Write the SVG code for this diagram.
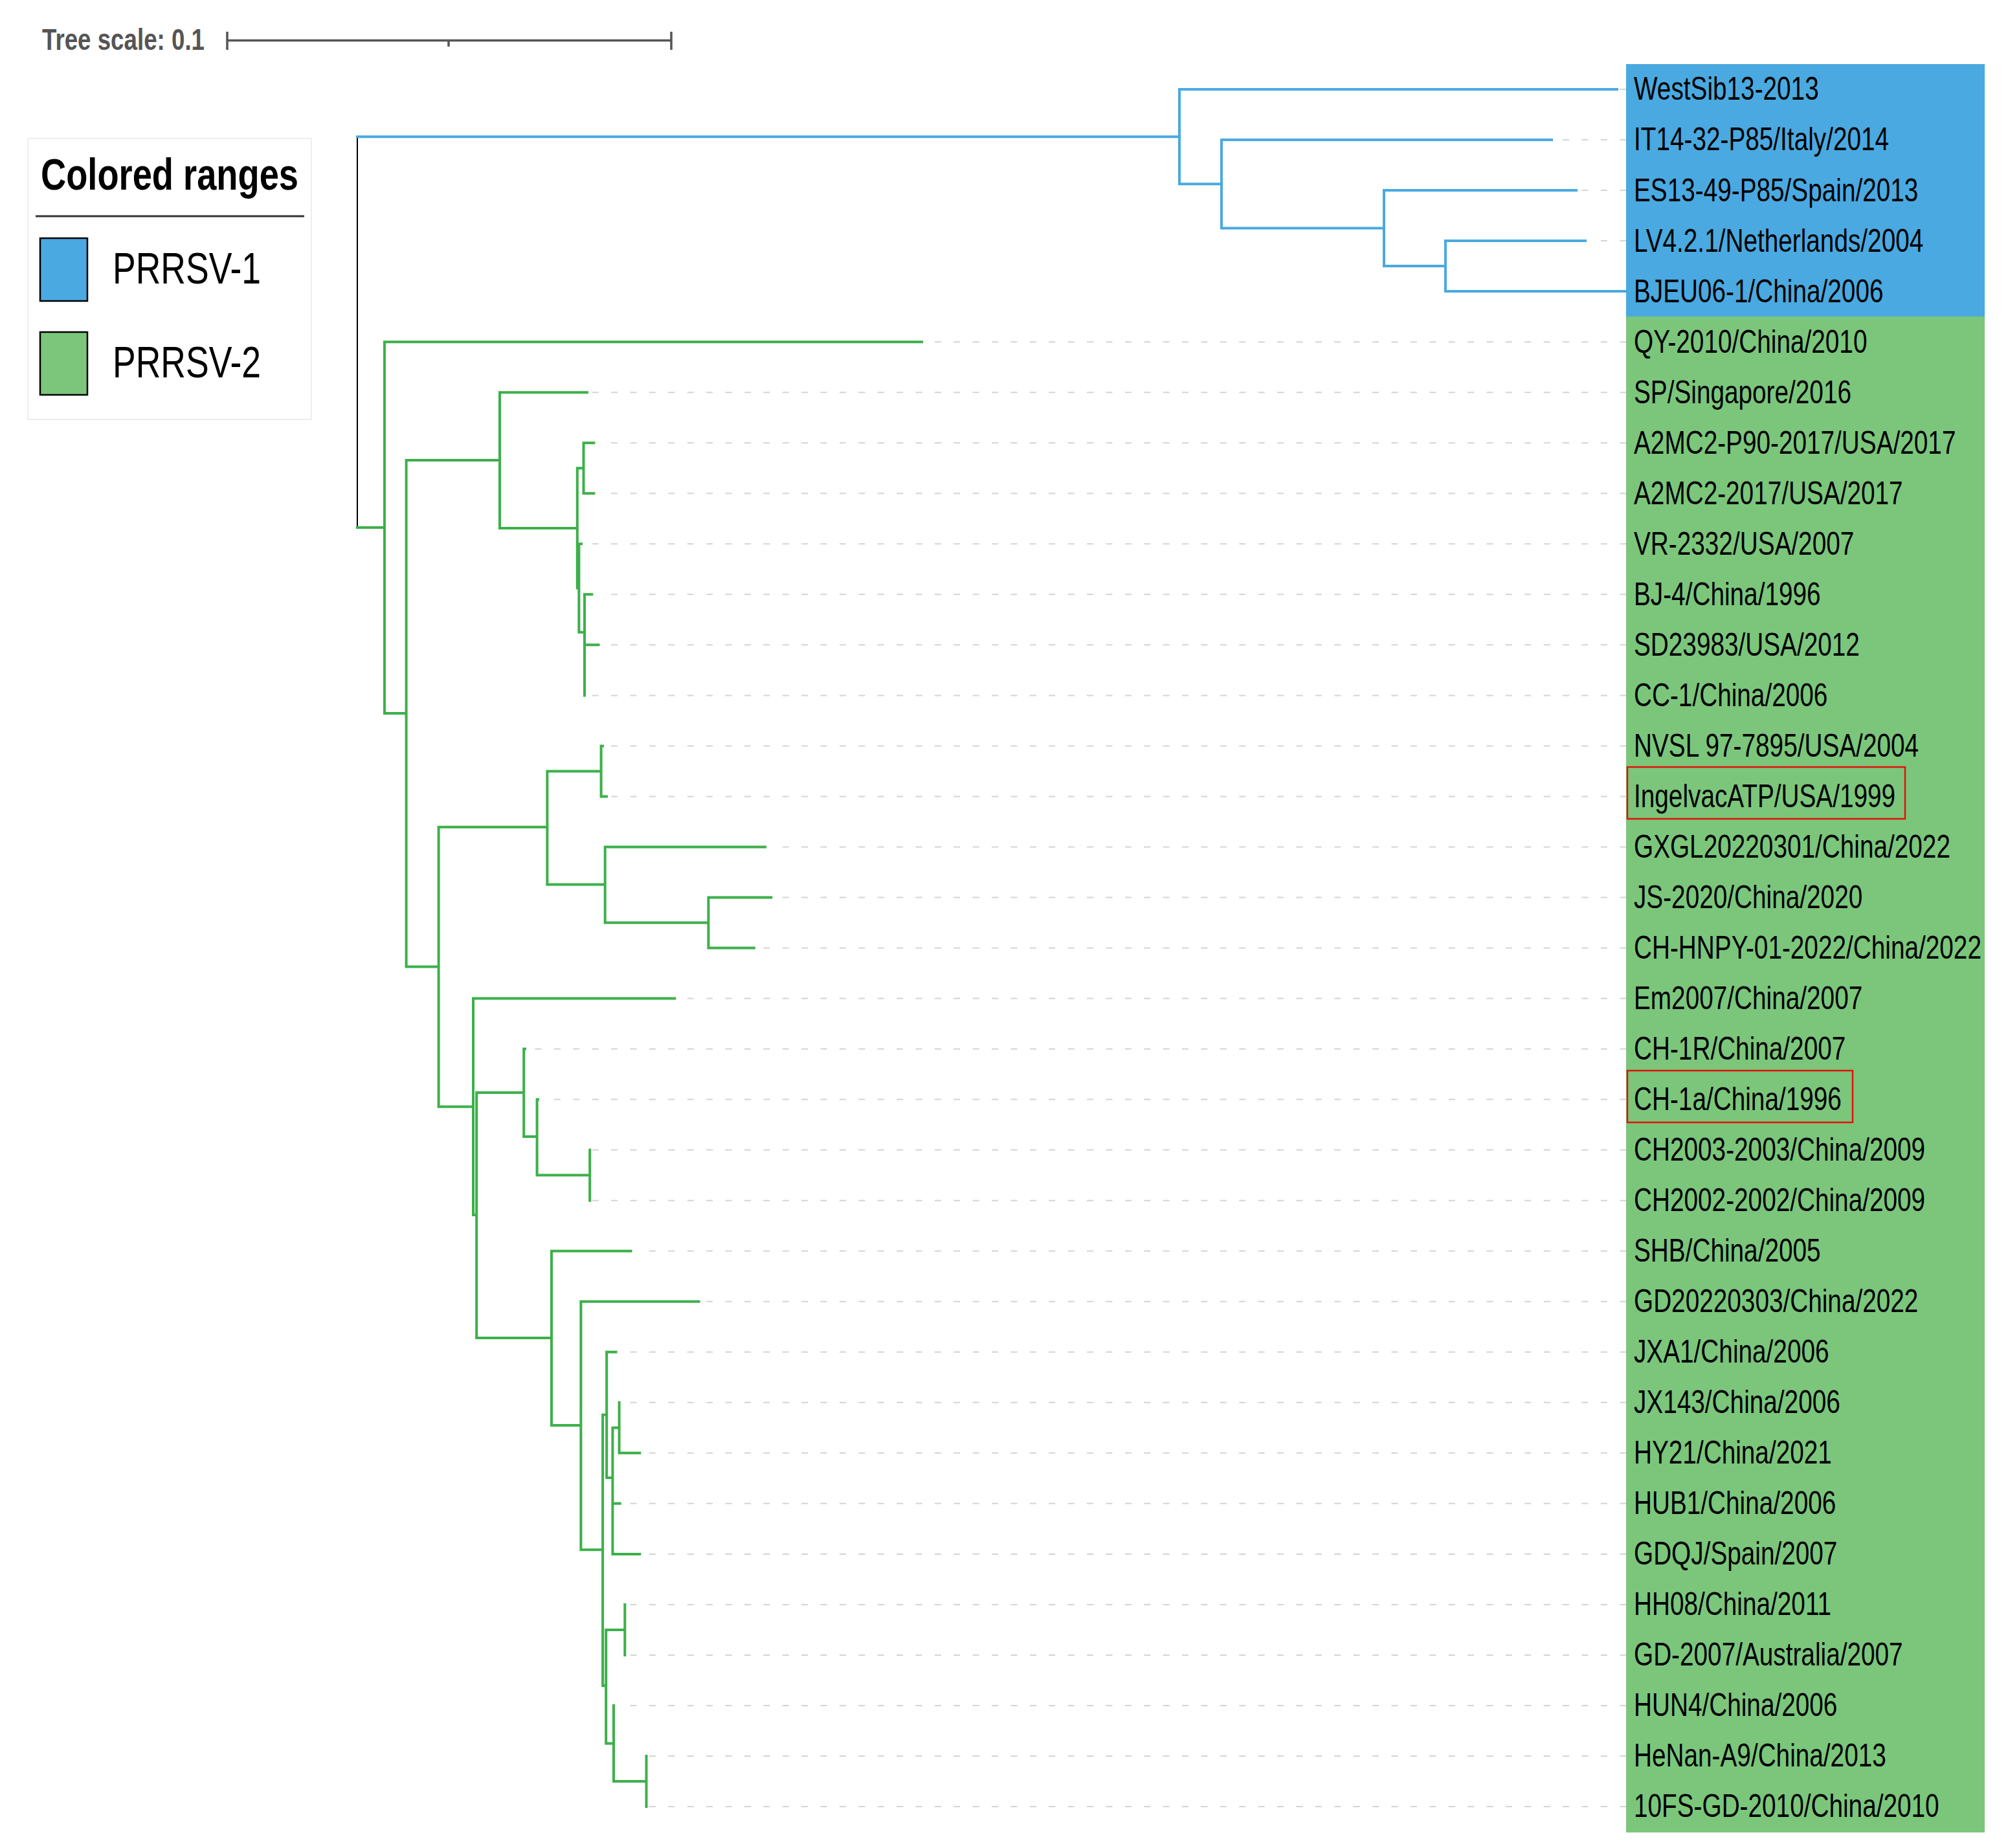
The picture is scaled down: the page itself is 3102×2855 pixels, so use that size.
<svg xmlns="http://www.w3.org/2000/svg" width="3102" height="2855" viewBox="0 0 3102 2855">
<style>
.lbl{font-family:"Liberation Sans",Arial,sans-serif;font-size:50px;fill:#000}
.br{fill:none;stroke-width:4;stroke-linecap:square}
.blue{stroke:#4aa9e0}
.green{stroke:#3cb04a}
.lead{fill:none;stroke:#d4d4d4;stroke-width:2;stroke-dasharray:10 19.4}
.hl{fill:none;stroke:#e3120b;stroke-width:2.5}
.leg{font-family:"Liberation Sans",Arial,sans-serif;fill:#000}
</style>
<rect width="3102" height="2855" fill="#fff"/>
<g id="scale">
<text x="65" y="77" font-family="Liberation Sans,Arial,sans-serif" font-weight="bold" font-size="46" fill="#555" textLength="251" lengthAdjust="spacingAndGlyphs">Tree scale: 0.1</text>
<path d="M351,62.5H1037M351,49V77M1037,49V77M693,62.5V72" fill="none" stroke="#555" stroke-width="3.5"/>
</g>
<g id="legend">
<rect x="43" y="214" width="438" height="434" fill="#fff" stroke="#eee" stroke-width="2"/>
<text class="leg" x="63" y="293" font-size="68" font-weight="bold" textLength="398" lengthAdjust="spacingAndGlyphs">Colored ranges</text>
<line x1="55" y1="334" x2="470" y2="334" stroke="#333" stroke-width="3"/>
<rect x="62" y="368" width="73" height="97" fill="#4aa9e0" stroke="#000" stroke-width="2.5"/>
<text class="leg" x="174" y="437.5" font-size="68" textLength="229" lengthAdjust="spacingAndGlyphs">PRRSV-1</text>
<rect x="62" y="513" width="73" height="97" fill="#7bc67b" stroke="#000" stroke-width="2.5"/>
<text class="leg" x="174" y="582.6" font-size="68" textLength="229" lengthAdjust="spacingAndGlyphs">PRRSV-2</text>
</g>
<g id="ranges">
<rect id="range-prrsv1" x="2512" y="99" width="554" height="390" fill="#4aa9e0"/>
<rect id="range-prrsv2" x="2512" y="489" width="554" height="2342" fill="#7bc67b"/>
</g>
<g id="connectors">
<g id="leaders">
<path class="lead" d="M2502.3,138H2512M2414.1,216H2512M2443.5,294.1H2512M2472.9,372.1H2512
M1443.9,528.2H2512M914.7,606.2H2512M944.1,684.2H2512M944.1,762.2H2512M914.7,840.3H2512M944.1,918.3H2512M944.1,996.3H2512M914.7,1074.4H2512
M944.1,1152.4H2512M944.1,1230.4H2512M1208.7,1308.5H2512M1208.7,1386.5H2512M1179.3,1464.5H2512M1061.7,1542.5H2512
M826.5,1620.6H2512M855.9,1698.6H2512M914.7,1776.6H2512M914.7,1854.7H2512M1002.9,1932.7H2512M1091.1,2010.7H2512
M973.5,2088.8H2512M973.5,2166.8H2512M1002.9,2244.8H2512M973.5,2322.8H2512M1002.9,2400.9H2512M973.5,2478.9H2512M973.5,2556.9H2512M973.5,2635H2512M1002.9,2713H2512M1002.9,2791H2512"/>
</g>
<path id="root" d="M552,211.2V815.1" fill="none" stroke="#000" stroke-width="2"/>
<path id="prrsv1-branches" class="br blue" d="M552,211.2H1822M1822,138V284.3M1822,138H2498M1822,284.3H1887M1887,216V352.6M1887,216H2397M1887,352.6H2138M2138,294.1V411.1M2138,294.1H2435M2138,411.1H2233M2233,372.1V450.1M2233,372.1H2449M2233,450.1H2512"/>
<path id="prrsv2-branches" class="br green" d="M552,815.1H594M594,528.2V1102M594,528.2H1424M594,1102H627.6
M627.6,711V1493.5M627.6,711H772M772,606.2V815.9M772,606.2H907M772,815.9H891.8
M891.8,723.2V908.5M891.8,723.2H901.5M901.5,684.2V762.2M901.5,684.2H917.3M901.5,762.2H917.3
M891.8,908.5H894.4M894.4,840.3V976.8M894.4,840.3H898M894.4,976.8H903M903,918.3V1074.4M903,918.3H914.3M903,996.3H924.5
M627.6,1493.5H677.6M677.6,1277.8V1709.8M677.6,1277.8H845.4M845.4,1191.4V1366.5M845.4,1191.4H928.6
M928.6,1152.4V1230.4M928.6,1152.4H931M928.6,1230.4H937M845.4,1366.5H934.7M934.7,1308.5V1425.5M934.7,1308.5H1182M934.7,1425.5H1094.4
M1094.4,1386.5V1464.5M1094.4,1386.5H1191.3M1094.4,1464.5H1164.8
M677.6,1709.8H731M731,1542.5V1877M731,1542.5H1042.3M731,1877H736.2M736.2,1688V2067.1M736.2,1688H809.2
M809.2,1620.6V1756M809.2,1620.6H811M809.2,1756H829.6M829.6,1698.6V1815.6M829.6,1698.6H831M829.6,1815.6H911.2M911.2,1776.6V1854.7
M736.2,2067.1H852M852,1932.7V2202M852,1932.7H974.5M852,2202H897.4M897.4,2010.7V2394.2M897.4,2010.7H1079.6M897.4,2394.2H931.1
M931.1,2185.7V2604.3M931.1,2185.7H937.2M937.2,2088.8V2283M937.2,2088.8H951.5M937.2,2283H946.4
M946.4,2205.8V2400.9M946.4,2205.8H956.6M956.6,2166.8V2244.8M956.6,2244.8H988.3M946.4,2322.8H957.7M946.4,2400.9H988.3
M931.1,2604.3H936.2M936.2,2517.9V2693.5M936.2,2517.9H965.3M965.3,2478.9V2556.9M936.2,2693.5H948M948,2635V2752M948,2752H998.5M998.5,2713V2791"/>
</g>
<g id="highlights">
<rect x="2514" y="1185" width="429" height="80" class="hl"/>
<rect x="2514" y="1654" width="348" height="80" class="hl"/>
</g>
<g id="leaves" transform="translate(2524 0) scale(0.775 1)">
<g id="n0"><text class="lbl" x="0" y="154.5">WestSib13-2013</text></g>
<g id="n1"><text class="lbl" x="0" y="232.5">IT14-32-P85/Italy/2014</text></g>
<g id="n2"><text class="lbl" x="0" y="310.6">ES13-49-P85/Spain/2013</text></g>
<g id="n3"><text class="lbl" x="0" y="388.6">LV4.2.1/Netherlands/2004</text></g>
<g id="n4"><text class="lbl" x="0" y="466.6">BJEU06-1/China/2006</text></g>
<g id="n5"><text class="lbl" x="0" y="544.7">QY-2010/China/2010</text></g>
<g id="n6"><text class="lbl" x="0" y="622.7">SP/Singapore/2016</text></g>
<g id="n7"><text class="lbl" x="0" y="700.7">A2MC2-P90-2017/USA/2017</text></g>
<g id="n8"><text class="lbl" x="0" y="778.7">A2MC2-2017/USA/2017</text></g>
<g id="n9"><text class="lbl" x="0" y="856.8">VR-2332/USA/2007</text></g>
<g id="n10"><text class="lbl" x="0" y="934.8">BJ-4/China/1996</text></g>
<g id="n11"><text class="lbl" x="0" y="1012.8">SD23983/USA/2012</text></g>
<g id="n12"><text class="lbl" x="0" y="1090.9">CC-1/China/2006</text></g>
<g id="n13"><text class="lbl" x="0" y="1168.9">NVSL 97-7895/USA/2004</text></g>
<g id="n14"><text class="lbl" x="0" y="1246.9">IngelvacATP/USA/1999</text></g>
<g id="n15"><text class="lbl" x="0" y="1325">GXGL20220301/China/2022</text></g>
<g id="n16"><text class="lbl" x="0" y="1403">JS-2020/China/2020</text></g>
<g id="n17"><text class="lbl" x="0" y="1481">CH-HNPY-01-2022/China/2022</text></g>
<g id="n18"><text class="lbl" x="0" y="1559">Em2007/China/2007</text></g>
<g id="n19"><text class="lbl" x="0" y="1637.1">CH-1R/China/2007</text></g>
<g id="n20"><text class="lbl" x="0" y="1715.1">CH-1a/China/1996</text></g>
<g id="n21"><text class="lbl" x="0" y="1793.1">CH2003-2003/China/2009</text></g>
<g id="n22"><text class="lbl" x="0" y="1871.2">CH2002-2002/China/2009</text></g>
<g id="n23"><text class="lbl" x="0" y="1949.2">SHB/China/2005</text></g>
<g id="n24"><text class="lbl" x="0" y="2027.2">GD20220303/China/2022</text></g>
<g id="n25"><text class="lbl" x="0" y="2105.3">JXA1/China/2006</text></g>
<g id="n26"><text class="lbl" x="0" y="2183.3">JX143/China/2006</text></g>
<g id="n27"><text class="lbl" x="0" y="2261.3">HY21/China/2021</text></g>
<g id="n28"><text class="lbl" x="0" y="2339.3">HUB1/China/2006</text></g>
<g id="n29"><text class="lbl" x="0" y="2417.4">GDQJ/Spain/2007</text></g>
<g id="n30"><text class="lbl" x="0" y="2495.4">HH08/China/2011</text></g>
<g id="n31"><text class="lbl" x="0" y="2573.4">GD-2007/Australia/2007</text></g>
<g id="n32"><text class="lbl" x="0" y="2651.5">HUN4/China/2006</text></g>
<g id="n33"><text class="lbl" x="0" y="2729.5">HeNan-A9/China/2013</text></g>
<g id="n34"><text class="lbl" x="0" y="2807.5">10FS-GD-2010/China/2010</text></g>
</g>
</svg>
